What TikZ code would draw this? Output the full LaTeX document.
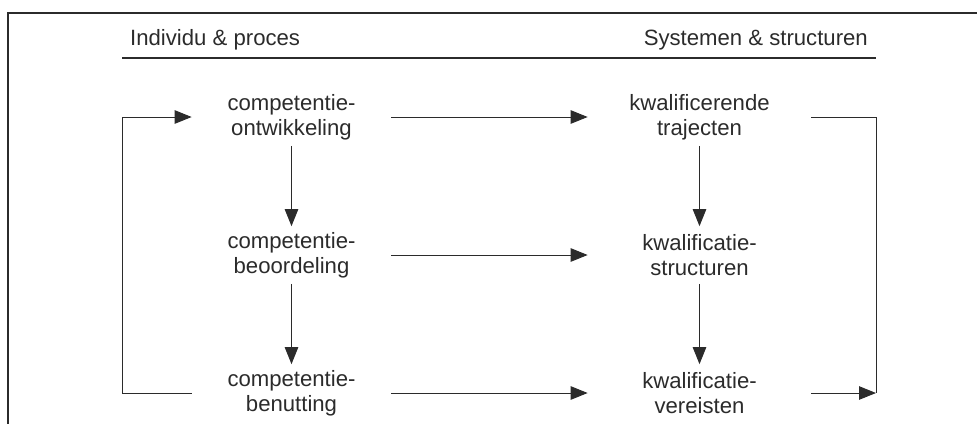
\documentclass[tikz,border=0pt]{standalone}
\usepackage{fontspec}
\setmainfont{Liberation Sans}
\usetikzlibrary{arrows.meta}
\definecolor{ink}{HTML}{2B2B2B}
\begin{document}
\begin{tikzpicture}[
  every node/.style={text=ink, font=\fontsize{12.6}{14.2}\selectfont},
  lstep/.style={align=center, inner sep=0pt, minimum width=3.98cm, minimum height=1.14cm},
  rstep/.style={align=center, inner sep=0pt, minimum width=4.46cm, minimum height=1.14cm},
  lijn/.style={draw=ink, line width=0.55pt},
  pijl/.style={lijn, -{Triangle[length=0.34cm, width=0.27cm]}}]
\useasboundingbox (0,0) rectangle (19.54,-8.48);
\draw[draw=ink, line width=1.1pt] (19.54,-0.26) -- (0.16,-0.26) -- (0.16,-8.48);
\node[anchor=base west] (hl) at (2.48,-0.9) {Individu \& proces};
\node[anchor=base east] (hr) at (17.48,-0.9) {Systemen \& structuren};
\draw[lijn, line width=0.9pt] (2.44,-1.16) -- (17.52,-1.16);
\node[lstep] (ont) at (5.83,-2.34) {competentie-\\ontwikkeling};
\node[lstep] (beo) at (5.83,-5.10) {competentie-\\beoordeling};
\node[lstep] (ben) at (5.83,-7.86) {competentie-\\benutting};
\node[rstep] (traj) at (13.99,-2.34) {kwalificerende\\trajecten};
\node[rstep] (struc) at (13.99,-5.10) {kwalificatie-\\structuren};
\node[rstep] (vereist) at (13.99,-7.86) {kwalificatie-\\vereisten};
\coordinate (lt) at (2.44,-2.34);
\coordinate (lb) at (2.44,-7.86);
\coordinate (rt) at (17.52,-2.34);
\coordinate (rb) at (17.52,-7.86);
\draw[pijl] (ont) -- (beo);
\draw[pijl] (beo) -- (ben);
\draw[pijl] (traj) -- (struc);
\draw[pijl] (struc) -- (vereist);
\draw[pijl] (ont) -- (traj);
\draw[pijl] (beo) -- (struc);
\draw[pijl] (ben) -- (vereist);
\draw[pijl] (ben.west) -- (lb) -- (lt) -- (ont.west);
\draw[lijn] (traj.east) -- (rt) -- (rb);
\draw[pijl] (vereist.east) -- (rb);
\end{tikzpicture}
\end{document}
